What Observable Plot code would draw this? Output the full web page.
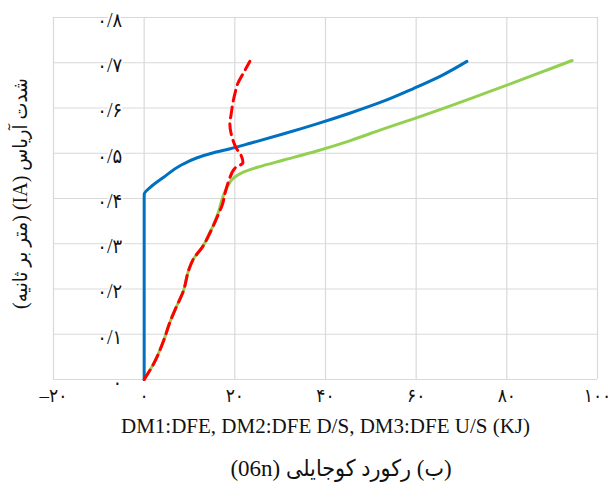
<!DOCTYPE html>
<html>
<head>
<meta charset="utf-8">
<script src="https://cdn.jsdelivr.net/npm/d3@7"></script>
<script src="https://cdn.jsdelivr.net/npm/@observablehq/plot@0.6"></script>
<style>
  body { margin: 0; background: #fff; }
  #wrap { position: relative; width: 610px; height: 483px; }
  .caption {
    position: absolute; left: 191px; top: 455px; width: 300px;
    text-align: center; direction: rtl;
    font-family: "Liberation Serif", "DejaVu Sans Condensed", "DejaVu Sans", serif; font-size: 23px; line-height: 28px;
    color: #111;
  }
</style>
</head>
<body>
<div id="wrap"><div id="chart"></div><div class="caption">(ب) رکورد کوجایلی (06n)</div></div>
<script>
// Arias intensity vs. energy for the three cases
// DM1: DFE
const dm1 = [[0,0],[0,0.409],[1.4,0.425],[4.3,0.447],[8.0,0.473],[11.7,0.490],[15.3,0.501],[19.0,0.510],
  [23.4,0.522],[30.8,0.543],[38.1,0.565],[45.5,0.589],[52.8,0.615],[59.4,0.643],[65.5,0.671],[71.2,0.703]];
// DM2: DFE D/S
const dm2 = [[0,0],[2.1,0.035],[4.3,0.086],[5.8,0.130],[6.9,0.156],[8.7,0.197],[9.8,0.241],[10.9,0.267],
  [12.8,0.292],[14.6,0.326],[16.4,0.366],[17.2,0.385],[17.9,0.414],[18.7,0.440],[20.1,0.468],[21.8,0.479],
  [21.4,0.495],[20.4,0.510],[19.4,0.535],[18.9,0.565],[19.2,0.587],[19.6,0.613],[20.1,0.635],[20.6,0.653],
  [22.0,0.679],[23.3,0.703]];
// DM3: DFE U/S
const dm3 = [[0,0],[2.1,0.035],[4.3,0.086],[5.8,0.130],[6.9,0.156],[8.7,0.197],[9.8,0.241],[10.9,0.267],
  [12.8,0.292],[14.6,0.326],[16.4,0.370],[17.2,0.399],[18.3,0.425],[19.8,0.446],[22.0,0.459],[25.3,0.470],
  [30.8,0.485],[38.1,0.505],[45.5,0.528],[52.8,0.554],[59.4,0.576],[66.8,0.602],[74.2,0.629],[81.5,0.656],
  [88.9,0.684],[94.4,0.705]];

const xTicks = [-20, 0, 20, 40, 60, 80, 100];
const xTickLabels = ["–۲۰", "۰", "۲۰", "۴۰", "۶۰", "۸۰", "۱۰۰"];
const yTicks = [0, 0.1, 0.2, 0.3, 0.4, 0.5, 0.6, 0.7, 0.8];
const yTickLabels = ["۰", "۰/۱", "۰/۲", "۰/۳", "۰/۴", "۰/۵", "۰/۶", "۰/۷", "۰/۸"];

const xTitle = "DM1:DFE, DM2:DFE D/S, DM3:DFE U/S (KJ)";
const yTitle = "\u202Bشدت آریاس (IA) (متر بر ثانیه)\u202C";

const serif = "Liberation Serif, DejaVu Sans Condensed, DejaVu Sans, serif";
const grid = "#d9d9d9";

const chart = Plot.plot({
  width: 610,
  height: 448,
  marginTop: 17,
  marginLeft: 53,
  marginRight: 13,
  marginBottom: 69,
  style: { fontFamily: serif, fontSize: "17px", background: "white", color: "#111" },
  x: { domain: [-20, 100], axis: null },
  y: { domain: [0, 0.8], axis: null },
  marks: [
    Plot.gridX(xTicks, { stroke: grid, strokeOpacity: 1, strokeWidth: 1.2 }),
    Plot.gridY(yTicks, { stroke: grid, strokeOpacity: 1, strokeWidth: 1.2 }),
    Plot.line(dm3, { x: d => d[0], y: d => d[1], stroke: "#92d050", strokeWidth: 3, curve: "monotone-y" }),
    Plot.line(dm1, { x: d => d[0], y: d => d[1], stroke: "#0070c0", strokeWidth: 3, curve: "monotone-y" }),
    Plot.line(dm2, { x: d => d[0], y: d => d[1], stroke: "#ff0000", strokeWidth: 3, strokeDasharray: "11,6", curve: "monotone-y" }),
    // y tick labels sit beside the vertical axis at x = 0
    Plot.text(yTicks, { x: () => 0, y: d => d, text: (d, i) => yTickLabels[i], textAnchor: "end", dx: -22, dy: 3,
      fontSize: 20, fill: "#111", stroke: "white", strokeWidth: 4 }),
    Plot.text(xTicks, { x: d => d, y: () => 0, text: (d, i) => xTickLabels[i], dy: 16, fontSize: 19, fill: "#111" }),
    Plot.text([xTitle], { frameAnchor: "bottom", text: d => d, dy: 53, fontSize: 21, fill: "#111" }),
    Plot.text([yTitle], { frameAnchor: "left", text: d => d, textAnchor: "middle", rotate: -90, dx: -33, dy: -5, fontSize: 20, fill: "#111" })
  ]
});
document.getElementById("chart").append(chart);
</script>
</body>
</html>
